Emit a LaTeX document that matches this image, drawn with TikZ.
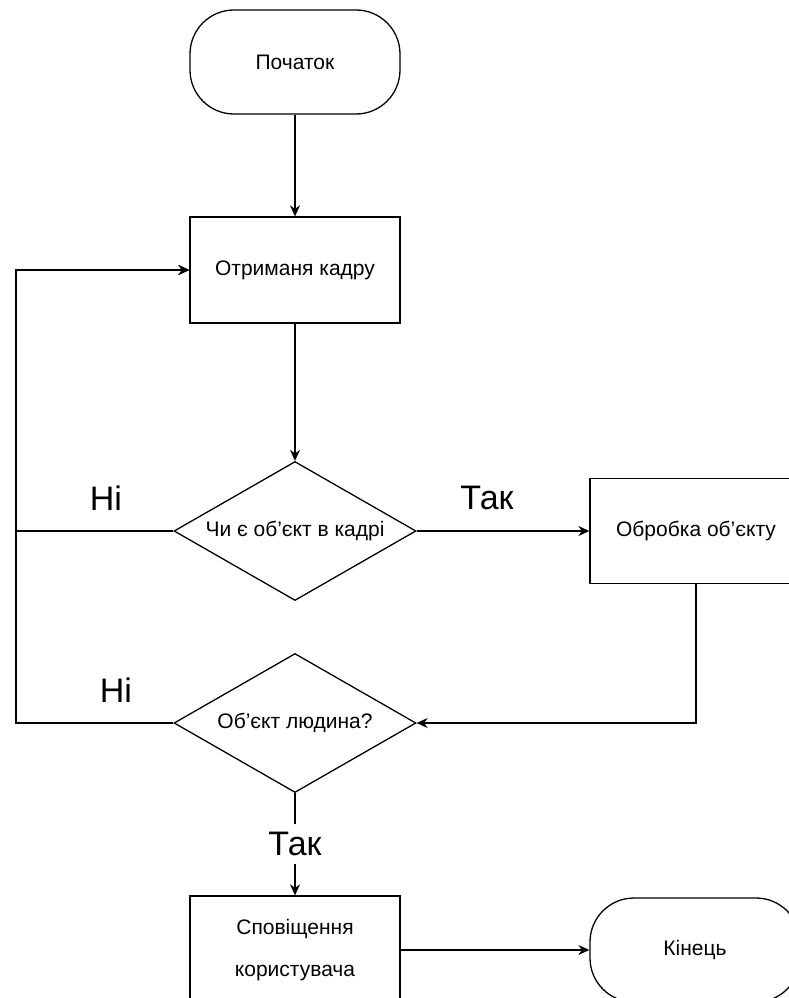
\documentclass[tikz,border=0pt]{standalone}
\usepackage{fontspec}
\setmainfont{Liberation Sans}
\usetikzlibrary{shapes.geometric,arrows.meta}

\begin{document}
\begin{tikzpicture}[x=1pt,y=-1pt,
    kasten/.style={draw, line width=1.3pt, minimum width=210pt, minimum height=106pt, inner sep=0pt, font=\fontsize{21}{25}\selectfont},
    terminal/.style={kasten, rounded corners=44pt, minimum height=104pt},
    raute/.style={draw, diamond, aspect=1.75, line width=1.3pt, minimum width=242pt, minimum height=139pt, inner sep=0pt, font=\fontsize{21}{25}\selectfont},
    pfeil/.style={line width=1.3pt, -{Stealth[length=11pt,width=10pt]}},
    marke/.style={font=\fontsize{34}{38}\selectfont, inner sep=2pt}]
    \clip (0,0) rectangle (789,998);

    % Knoten
    \node[terminal] (start) at (295,62) {Початок};
    \node[kasten] (frame) at (295,270) {Отриманя кадру};
    \node[raute] (object) at (295,531) {Чи є об’єкт в кадрі};
    \node[kasten, minimum width=212pt, minimum height=105pt] (process) at (696,531) {Обробка об’єкту};
    \node[raute] (human) at (295,723) {Об’єкт людина?};
    \node[kasten, minimum height=108pt, align=center, font=\fontsize{21}{42}\selectfont] (notify) at (295,950) {Сповіщення\\користувача};
    \node[terminal] (finish) at (695,950) {Кінець};
    \coordinate (loop) at (16,723);

    % Verbindungen
    \draw[pfeil] (start) -- (frame);
    \draw[pfeil] (frame) -- (object);
    \draw[pfeil] (object) -- (process);
    \draw[pfeil] (object.west) -- (object.west -| loop) |- (frame.west);
    \draw[pfeil] (process.south) |- (human.east);
    \draw[pfeil] (human.west) -- (loop) |- (frame.west);
    \draw[pfeil] (human) -- node[marke, fill=white, inner ysep=8pt] (yes2) {Так} (notify);
    \draw[pfeil] (notify) -- (finish);

    % Beschriftungen
    \node[marke] (no1) at (106,498) {Ні};
    \node[marke] (yes1) at (487,498) {Так};
    \node[marke] (no2) at (116,690) {Ні};
\end{tikzpicture}
\end{document}
